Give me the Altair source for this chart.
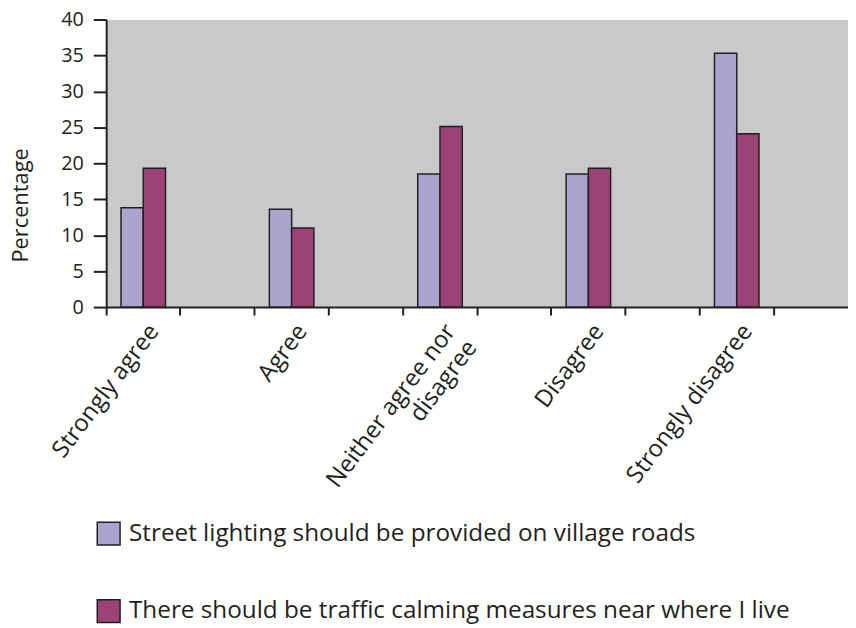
import altair as alt
import pandas as pd

categories = ["Strongly agree", "Agree", "Neither agree nor|disagree", "Disagree", "Strongly disagree"]
series = [
    "Street lighting should be provided on village roads",
    "There should be traffic calming measures near where I live",
]
street_lighting = [13.8, 13.6, 18.5, 18.5, 35.3]
traffic_calming = [19.3, 11.0, 25.1, 19.3, 24.1]
y_ticks = [0, 5, 10, 15, 20, 25, 30, 35, 40]
colors = ["#ADA3CF", "#9C4276"]

rows = []
for c, a, b in zip(categories, street_lighting, traffic_calming):
    rows.append({"category": c, "series": series[0], "value": a})
    rows.append({"category": c, "series": series[1], "value": b})
df = pd.DataFrame(rows)

# Each category is followed by an empty slot (as in the original chart)
slots = []
for i, c in enumerate(categories):
    slots.append(c)
    slots.append(f"_gap{i}")

font = "Open Sans"
ink = "#231F20"

chart = alt.Chart(df).mark_bar(stroke=ink, strokeWidth=1.5).encode(
    x=alt.X(
        "category:N",
        sort=None,
        scale=alt.Scale(domain=slots, paddingInner=0, paddingOuter=0),
        axis=alt.Axis(
            title=None,
            bandPosition=0,
            labelExpr="indexof(datum.value, '_gap') >= 0 ? '' : split(datum.value, '|')",
            labelAngle=307,
            labelAlign="right",
            labelBaseline="middle",
            labelOffset=11,
            labelPadding=12,
            labelFontSize=24,
            labelFont=font,
            labelColor=ink,
            labelLimit=500,
            labelOverlap=False,
            labelFlush=False,
            labelLineHeight=27,
            tickSize=8,
            tickWidth=2,
            tickColor=ink,
            domainColor=ink,
            domainWidth=2,
            grid=False,
        ),
    ),
    xOffset=alt.XOffset(
        "series:N",
        scale=alt.Scale(domain=series, paddingInner=0, paddingOuter=0.667),
    ),
    y=alt.Y(
        "value:Q",
        scale=alt.Scale(domain=[0, 40], nice=False),
        axis=alt.Axis(
            values=y_ticks,
            title="Percentage",
            titleFont=font,
            titleFontSize=22,
            titleFontWeight="normal",
            titleColor=ink,
            titleAngle=270,
            titleX=-74,
            titleY=187,
            titleAlign="center",
            titleBaseline="bottom",
            labelFont=font,
            labelFontSize=20,
            labelColor=ink,
            labelPadding=10,
            tickSize=13,
            tickWidth=2,
            tickColor=ink,
            domainColor=ink,
            domainWidth=2,
            grid=False,
        ),
    ),
    color=alt.Color(
        "series:N",
        scale=alt.Scale(domain=series, range=colors),
        legend=alt.Legend(
            title=None,
            orient="none",
            legendX=-10,
            legendY=506,
            direction="vertical",
            symbolType="square",
            symbolSize=529,
            symbolStrokeColor=ink,
            symbolStrokeWidth=1.5,
            symbolOpacity=1,
            labelFont=font,
            labelFontSize=24.5,
            labelColor=ink,
            labelLimit=1000,
            labelOffset=8,
            rowPadding=49,
            padding=0,
        ),
    ),
).properties(
    width=748,
    height=290,
    autosize=alt.AutoSizeParams(type="none"),
    padding={"left": 99, "top": 9, "right": 0, "bottom": 318},
).configure_view(fill="#C8C9CB", stroke="transparent")

chart.save("out.html", embed_options={"renderer": "svg", "actions": False})
